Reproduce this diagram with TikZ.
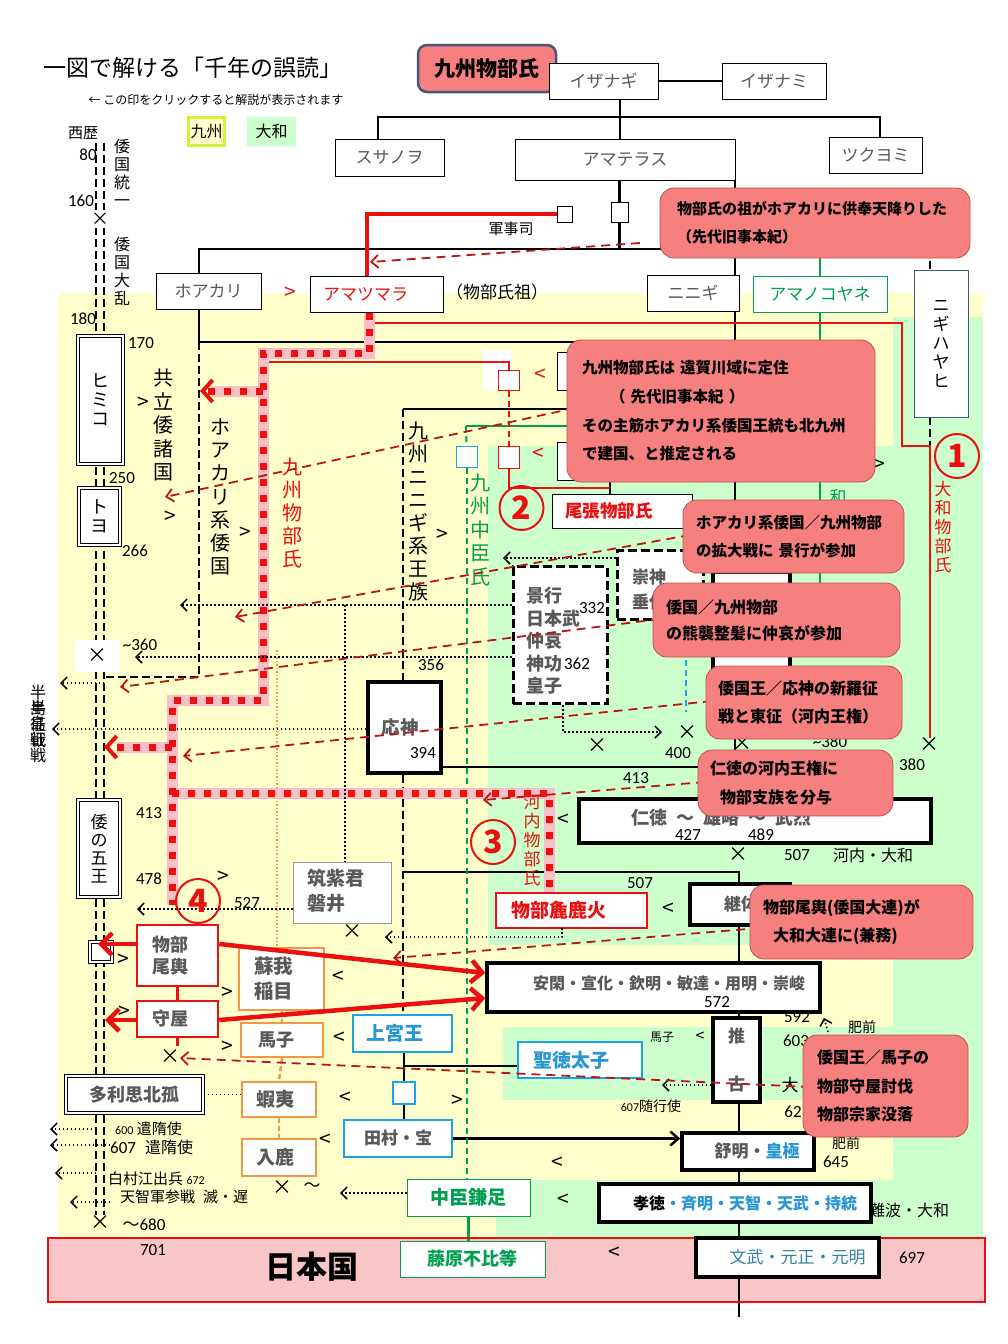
\documentclass[tikz,border=0pt]{standalone}
\usepackage{fontspec}
\setmainfont{Noto Sans CJK JP}
\newfontfamily\numf{Carlito}
\usetikzlibrary{arrows.meta,calc}

\definecolor{bgyel}{RGB}{255,255,204}
\definecolor{bggrn}{RGB}{204,255,204}
\definecolor{legyel}{RGB}{215,240,60}
\definecolor{notefill}{RGB}{246,128,128}
\definecolor{noteedge}{RGB}{192,80,77}
\definecolor{titleedge}{RGB}{70,85,120}
\definecolor{mred}{RGB}{235,15,15}
\definecolor{dred}{RGB}{190,20,20}
\definecolor{mpink}{RGB}{250,190,198}
\definecolor{morange}{RGB}{243,150,70}
\definecolor{mblue}{RGB}{25,165,225}
\definecolor{tblue}{RGB}{40,150,210}
\definecolor{mteal}{RGB}{50,130,165}
\definecolor{mgreen}{RGB}{0,160,80}
\definecolor{mgray}{RGB}{89,89,89}
\definecolor{bandpink}{RGB}{248,198,198}

\pgfdeclarelayer{back}
\pgfdeclarelayer{bg}
\pgfsetlayers{back,bg,main}

\newcommand\fs[1]{\fontsize{#1}{#1}\selectfont}
\newcommand\vfs[2]{\fontsize{#1}{#2}\selectfont}

\tikzset{
  box/.style={draw,fill=white,line width=1pt,inner sep=0pt,text=mgray,font=\fs{17}},
  bbox/.style={box,font=\bfseries\fs{17}},
  thickbox/.style={bbox,line width=3.5pt},
  dashbox/.style={bbox,line width=3pt,dash pattern=on 9pt off 4pt},
  redbox/.style={bbox,draw=mred,line width=2.5pt},
  orgbox/.style={bbox,draw=morange,line width=2.5pt},
  bluebox/.style={bbox,draw=mblue,line width=2.5pt},
  grnbox/.style={box,draw=mgreen,text=mgreen,font=\bfseries\fs{18}},
  dblbox/.style={draw,double=white,double distance=2pt,line width=1pt,fill=white,inner sep=0pt,text=black},
  smallsq/.style={draw,fill=white,line width=1pt,inner sep=0pt},
  note/.style={draw=noteedge,fill=notefill,rounded corners=14pt,line width=0.8pt,inner ysep=0pt,align=left},
  lbl/.style={inner sep=0pt,font=\fs{16}},
  num/.style={inner sep=0pt,font=\numf\fs{17}},
  vtext/.style={inner sep=0pt,align=center},
  sym/.style={inner sep=0pt,font=\fs{21}},
  cnum/.style={circle,draw=mred,line width=2pt,text=mred,minimum size=44pt,inner sep=0pt,font=\bfseries\fs{32}},
  blk/.style={line width=2.5pt},
  blkdash/.style={line width=2.5pt,dash pattern=on 8pt off 4pt},
  grnln/.style={mgreen,line width=2.5pt},
  grndash/.style={mgreen,line width=2pt,dash pattern=on 6pt off 4pt},
  redln/.style={mred,line width=2.5pt},
  kpath/.style={mpink,line width=11pt},
  kdots/.style={mred,line width=7pt,dash pattern=on 7pt off 9pt},
  kdot/.style={line width=1.5pt,dash pattern=on 1.5pt off 2.5pt},
  karr/.style={kdot,-{Straight Barb[length=6pt,width=12pt,line width=1.5pt]}},
  rarr/.style={dred,line width=1.8pt,dash pattern=on 9pt off 6pt,-{Straight Barb[length=7pt,width=13pt]}},
  bigarr/.style={mred,line width=4.5pt,-{Straight Barb[length=11pt,width=22pt]}},
}

\begin{document}
\begin{tikzpicture}[x=1pt,y=-1pt]
\useasboundingbox (0,0) rectangle (1008,1344);

% coloured areas
\begin{pgfonlayer}{back}
\fill[white] (0,0) rectangle (1008,1344);
\fill[bgyel] (58,293) rectangle (983,1238);
\fill[bggrn] (893,317) rectangle (983,1238);
\fill[bggrn] (488,446) rectangle (893,945);
\fill[bggrn] (503,1027) rectangle (893,1100);
\fill[bggrn] (496,1180) rectangle (893,1238);
\fill[white] (483,350) rectangle (512,390);
\fill[bandpink] (48,1238) rectangle (985,1302);
\end{pgfonlayer}
\draw[mred,line width=2pt] (48,1238) rectangle (985,1302);

% heading
\node[lbl,font=\fs{23}] (title) at (193,68) {一図で解ける「千年の誤読」};
\node[lbl,font=\fs{12}] (hint) at (216,100) {← この印をクリックすると解説が表示されます};
\node[draw=legyel,line width=3pt,fill=bgyel,minimum width=36pt,minimum height=28pt,inner sep=0pt,font=\fs{16}] (legkyu) at (206.5,131.5) {九州};
\node[fill=bggrn,minimum width=49pt,minimum height=29pt,inner sep=0pt,font=\fs{16}] (legyam) at (271.5,131.5) {大和};
\node[lbl,font=\fs{15}] (seireki) at (83,133) {西歴};
\node[draw=titleedge,line width=2.5pt,fill=notefill,rounded corners=9pt,minimum width=138pt,minimum height=47pt,inner sep=0pt,font=\bfseries\fs{21}] (kmono) at (487,68.5) {九州物部氏};

% gods
\node[box,minimum width=109pt,minimum height=36pt] (izanagi) at (603.5,81) {イザナギ};
\node[box,minimum width=104pt,minimum height=36pt] (izanami) at (774,81) {イザナミ};
\node[box,minimum width=109pt,minimum height=37pt] (susanoo) at (389.5,157.5) {スサノヲ};
\node[box,minimum width=220pt,minimum height=41pt] (amaterasu) at (625,159.5) {アマテラス};
\node[box,minimum width=93pt,minimum height=36pt] (tsukuyomi) at (875.5,155) {ツクヨミ};
\node[smallsq,minimum width=15pt,minimum height=16pt] (sqA) at (564.5,214) {};
\node[smallsq,minimum width=17pt,minimum height=20pt] (sqB) at (619.5,212) {};
\node[lbl,font=\fs{15}] (gunji) at (511,229) {軍事司};
\node[box,minimum width=105pt,minimum height=36pt] (hoakari) at (208.5,291) {ホアカリ};
\node[box,minimum width=133pt,minimum height=36pt] (amatsumara) at (376.5,294) {};
\node[lbl,font=\fs{17},text=mred] at ($(amatsumara)+(-11,0)$) {アマツマラ};
\node[lbl,font=\fs{17}] (sotext) at (497,292) {（物部氏祖）};
\node[box,minimum width=92pt,minimum height=36pt] (ninigi) at (693,293) {ニニギ};
\node[box,draw=mgreen,text=mgreen,minimum width=134pt,minimum height=36pt] (amanokoyane) at (820,294) {アマノコヤネ};
\node[box,draw=titleedge,minimum width=54pt,minimum height=147pt,align=center,text=black,font=\vfs{17}{19}] (nigihayahi) at (941,343.5) {ニ\\ギ\\ハ\\ヤ\\ヒ};

% time line boxes
\node[dblbox,minimum width=45pt,minimum height=128pt,align=center,font=\vfs{18}{19}] (himiko) at (100.5,400) {ヒ\\ミ\\コ};
\node[dblbox,minimum width=41pt,minimum height=57pt,align=center,font=\vfs{18}{19}] (toyo) at (99.5,516.5) {ト\\ヨ};
\node[dblbox,minimum width=42pt,minimum height=97pt,align=center,font=\vfs{17}{18}] (wa5) at (99,848.5) {倭\\の\\五\\王};
\node[dblbox,minimum width=22pt,minimum height=20pt] (wsq) at (101,952) {};
\node[dblbox,minimum width=137pt,minimum height=37pt,text=mgray,font=\bfseries\fs{18}] (tarishi) at (134.5,1094.5) {多利思北孤};
\node[fill=white,minimum width=45pt,minimum height=32pt,inner sep=0pt,font=\fs{20}] (cut360) at (97.5,656) {×};
\node[fill=white,minimum width=18pt,minimum height=18pt,inner sep=0pt,font=\fs{18}] (cut160) at (100,219) {×};

% kyushu side
\node[box,minimum width=62pt,minimum height=38pt] (bx1) at (588,371) {};
\node[box,minimum width=62pt,minimum height=38pt] (bx2) at (588,461) {};
\node[smallsq,draw=mred,minimum width=21pt,minimum height=20pt] (rsq1) at (508.5,380) {};
\node[smallsq,draw=mred,minimum width=21pt,minimum height=22pt] (rsq2) at (508.5,457) {};
\node[smallsq,draw=mblue,minimum width=21pt,minimum height=21pt] (bsq) at (466.5,456.5) {};
\node[box,text=mred,font=\bfseries\fs{17.5},minimum width=140pt,minimum height=34pt] (owari) at (622,511) {\hspace*{-26pt}尾張物部氏};
\node[dashbox,minimum width=94pt,minimum height=137pt] (keiko) at (560,635) {};
\node[lbl,font=\bfseries\vfs{18}{22.5},text=mgray,align=left,anchor=north west] at (526,587) {景行\\日本武\\仲哀\\神功\\皇子};
\node[dashbox,minimum width=86pt,minimum height=69pt] (sujin) at (660,585) {};
\node[lbl,font=\bfseries\vfs{17}{25},text=mgray,align=left,anchor=north west] at (632,569) {崇神\\垂仁};
\node[thickbox,minimum width=77pt,minimum height=128pt] (sanbox) at (751.5,636) {};
\node[thickbox,minimum width=73pt,minimum height=91pt] (ojin) at (404.5,727.5) {};
\node[lbl,font=\bfseries\fs{18.5},text=mgray] at (400,727) {応神};
\node[box,draw=mgray!60,minimum width=98pt,minimum height=61pt] (tsukushi) at (342,892.5) {};
\node[lbl,font=\bfseries\vfs{19}{25},text=mgray,align=left,anchor=north west] at (307,869) {筑紫君\\磐井};

% kawachi and yamato side
\node[thickbox,minimum width=352pt,minimum height=44pt] (nintoku) at (755,821) {};
\node[lbl,font=\bfseries\fs{18},text=mgray] at (721,818) {仁徳\hspace{9pt}～\hspace{9pt}雄略\hspace{9pt}～\hspace{9pt}武烈};
\node[thickbox,minimum width=100pt,minimum height=41pt] (keitai) at (740,904.5) {\hspace*{2pt}継体};
\node[redbox,text=mred,font=\bfseries\fs{19},minimum width=151pt,minimum height=35pt] (araka) at (571.5,910.5) {\hspace*{-26pt}物部麁鹿火};
\node[thickbox,minimum width=333pt,minimum height=49pt] (ankan) at (653.5,987.5) {};
\node[lbl,font=\bfseries\fs{16},text=mgray] at (669,983) {安閑・宣化・欽明・敏達・用明・崇峻};
\node[redbox,minimum width=81pt,minimum height=61pt,align=center,font=\bfseries\vfs{18}{22}] (obito) at (177.5,955.5) {\hspace*{-14pt}物部\\\hspace*{-14pt}尾輿};
\node[redbox,minimum width=81pt,minimum height=36pt,font=\bfseries\fs{18}] (moriya) at (177.5,1019) {\hspace*{-14pt}守屋};
\node[orgbox,minimum width=85pt,minimum height=62pt,align=center,font=\bfseries\vfs{19.5}{25}] (iname) at (281.5,979) {\hspace*{-16pt}蘇我\\\hspace*{-16pt}稲目};
\node[orgbox,minimum width=82pt,minimum height=34pt,font=\bfseries\fs{18}] (umako) at (282,1040) {\hspace*{-12pt}馬子};
\node[orgbox,minimum width=74pt,minimum height=35pt,font=\bfseries\fs{19}] (emishi) at (279,1099.5) {\hspace*{-8pt}蝦夷};
\node[orgbox,minimum width=74pt,minimum height=37pt,font=\bfseries\fs{19}] (iruka) at (279,1157.5) {\hspace*{-8pt}入鹿};
\node[bluebox,text=tblue,font=\bfseries\fs{19},minimum width=99pt,minimum height=37pt] (jogu) at (402.5,1033.5) {\hspace*{-16pt}上宮王};
\node[smallsq,draw=mblue,line width=2.5pt,minimum width=22pt,minimum height=22pt] (bsq2) at (404,1093) {};
\node[bluebox,minimum width=108pt,minimum height=37pt] (tamura) at (398,1138.5) {田村・宝};
\node[bluebox,text=tblue,font=\bfseries\fs{19},minimum width=124pt,minimum height=36pt] (shotoku) at (580,1060) {\hspace*{-18pt}聖徳太子};
\node[thickbox,minimum width=47pt,minimum height=84pt,align=center,font=\bfseries\vfs{17}{48}] (suiko) at (736.5,1060) {推\\古};
\node[thickbox,minimum width=132pt,minimum height=37pt] (jomei) at (748,1151.5) {\hspace*{18pt}舒明・\textcolor{tblue}{皇極}};
\node[grnbox,font=\bfseries\fs{19},minimum width=123pt,minimum height=37pt] (kamatari) at (468.5,1197.5) {中臣鎌足};
\node[thickbox,minimum width=272pt,minimum height=38pt,font=\bfseries\fs{16},text=black] (kotoku) at (735,1203) {\hspace*{20pt}孝徳\textcolor{tblue}{・斉明・天智・天武・持統}};
\node[grnbox,minimum width=145pt,minimum height=36pt] (fuhito) at (472.5,1259) {藤原不比等};
\node[thickbox,minimum width=183pt,minimum height=39pt,font=\fs{17},text=mteal] (monmu) at (787.5,1257.5) {\hspace*{20pt}文武・元正・元明};
\node[lbl,font=\bfseries\fs{31}] (nihon) at (312,1267) {日本国};

% lines
\coordinate (jS) at (378,117);
\coordinate (jT) at (880,117);
\coordinate (jA) at (620,117);
\coordinate (jH) at (199,249);
\coordinate (jN) at (930,249);
\coordinate (jW) at (199,342);
\coordinate (jK) at (403,409);
\coordinate (jG) at (466,426);
\coordinate (jO) at (441,767);
\coordinate (j507) at (403,872);
\coordinate (jU) at (404,1066);
\coordinate (jR) at (367,214);
\coordinate (spineU) at (735,0);
\coordinate (spine) at (739,0);
\begin{pgfonlayer}{bg}
\draw[blkdash] (96,143) -- (96,1215) (104,143) -- (104,1215);
\draw[blk] (izanagi) -- (izanami);
\draw[blk] (jA |- izanagi.south) -- (jA |- amaterasu.north);
\draw[blk] (jS |- susanoo.north) -- (jS) -- (jT) -- (jT |- tsukuyomi.north);
\draw[blk] (sqB.north |- amaterasu.south) -- (sqB.north);
\draw[blk] (sqB.south) -- (sqB.south |- jH);
\draw[blk] (jH |- hoakari.north) -- (jH) -- (jN);
\draw[blkdash] (jN) -- (jN |- nigihayahi.north);
\draw[blk] (spineU |- amaterasu.south) -- (spineU |- ninigi.north);
\draw[grnln] (amanokoyane.north |- jH) -- (amanokoyane.north);
\draw[grnln] (amanokoyane.south) -- ++(0,273);
\draw[blk] (jH |- hoakari.south) -- (jW) -- (jW -| spineU);
\draw[blkdash] (jW) -- (199,677) -- (104,677);
\draw[blk] (jK) -- (jK -| spineU);
\draw[blkdash] (jK) -- (jK |- ojin.north);
\draw[blkdash] (jK |- ojin.south) -- (jK |- jogu.north);
\draw[blk] (spineU |- ninigi.south) -- (spineU |- nintoku.north);
\draw[blk] (610,480) -- (610,0 |- owari.north);
\draw[blk] (jO) -- (jO -| spineU);
\draw[blk] (j507) -- (j507 -| spine) -- (spine |- keitai.north);
\draw[blk] (spine |- keitai.south) -- (spine |- ankan.north);
\draw[blk] (spine |- ankan.south) -- (spine |- suiko.north);
\draw[blk] (spine |- suiko.south) -- (spine |- jomei.north);
\draw[blk] (spine |- jomei.south) -- (spine |- kotoku.north);
\draw[blk] (spine |- kotoku.south) -- (spine |- monmu.north);
\draw[blk] (spine |- monmu.south) -- ++(0,38);
\draw[blk] (jogu.south -| bsq2) -- (bsq2.north);
\draw[blk] (bsq2.south) -- (bsq2.south |- tamura.north);
\draw[blk] (jU) -- (jU -| shotoku.west);
\draw[blk,-{Straight Barb[length=8pt,width=14pt]}] (tamura.east) -- (tamura.east -| jomei.west);
\draw[grnln] (jG) -- (jG -| amanokoyane);
\draw[grndash] (jG) -- (bsq.north);
\draw[grndash] (bsq.south) -- (bsq.south |- kamatari.north);
\draw[grnln] (kamatari.south) -- (kamatari.south |- fuhito.north);
\draw[blkdash] (930,417) -- (930,446);
\draw[mblue,line width=2pt,dash pattern=on 6pt off 4pt] (686,660) -- (686,712);
% mononobe lines
\draw[mred,line width=4.5pt] (sqA.west) -- (jR) -- (jR |- amatsumara.north);
\draw[redln] (369,323) -- (902,323) -- (902,446) -- (930,446) -- (930,738);
\draw[redln,line width=2pt] (265,362) -| (rsq1.north);
\draw[redln,line width=2pt,dash pattern=on 6pt off 4pt] (rsq1.south) -- (rsq2.north);
\draw[redln,line width=2pt] (rsq2.south) |- (610,488);
\draw[morange,line width=1.2pt,dash pattern=on 1.5pt off 2pt] (277,650) -- (277,0 |- iname.north);
\draw[morange,line width=2.5pt,dash pattern=on 5pt off 3pt] (iname.south) -- (umako.north);
\draw[morange,line width=2.5pt,dash pattern=on 5pt off 3pt] (umako.south) -- (emishi.north);
\draw[morange,line width=2.5pt,dash pattern=on 5pt off 3pt] (emishi.south) -- (iruka.north);
\draw[redln] (obito.south) -- (moriya.north);
\draw[redln] (moriya.south) -- ++(0,8);
% kyushu mononobe route
\draw[kpath] (amatsumara.south -| 369,0) -- (369,353) -- (263,353) -- (263,700) -- (172,700) -- (172,905);
\draw[kpath] (172,793) -- (549,793) -- (549,0 |- araka.north);
\draw[kpath] (263,391) -- (212,391);
\draw[kpath] (172,747) -- (117,747);
\draw[kdots] (amatsumara.south -| 369,0) -- (369,353) -- (263,353) -- (263,700) -- (172,700) -- (172,905);
\draw[kdots] (172,793) -- (549,793) -- (549,0 |- araka.north);
\end{pgfonlayer}
\draw[mred,line width=7pt,dash pattern=on 7pt off 9pt,-{Straight Barb[length=10pt,width=22pt,line width=4pt]}] (263,391) -- (200,391);
\draw[mred,line width=7pt,dash pattern=on 7pt off 9pt,-{Straight Barb[length=10pt,width=22pt,line width=4pt]}] (172,747) -- (104,747);

% dotted arrows
\draw[karr] (sujin.west |- 0,558) -- (503,558);
\draw[karr] (keiko.west |- 0,605) -- (180,605);
\draw[kdot] (345,605) -- (345,0 |- tsukushi.north);
\draw[karr] (keiko.west |- 0,657) -- (135,657);
\draw[karr] (104,683) -- (60,683);
\draw[karr] (ojin.west |- 0,729) -- (52,729);
\draw[karr] (tsukushi.west |- 0,909) -- (137,909);
\draw[karr] (562,928) -- (562,937) -- (385,937);
\draw[karr] (563,705) -- (563,732) -- (662,732);
\draw[kdot] (tarishi.east) -- (tarishi.east -| emishi.west);
\draw[karr] (96,1129) -- (50,1129);
\draw[karr] (110,1145) -- (50,1145);
\draw[karr] (96,1173) -- (55,1173);
\draw[karr] (110,1202) -- (70,1202);
\draw[karr] (kamatari.west |- 0,1193) -- (340,1193);
\draw[karr] (suiko.west |- 0,1085) -- (662,1085);
\draw[karr] (828,1032) -- (824,1018);

% big red arrows
\draw[bigarr] (obito.west |- 0,944) -- (98,944);
\draw[bigarr] (moriya.west |- 0,1020) -- (105,1020);
\draw[bigarr] (obito.east |- 0,944) -- (ankan.west |- 0,973);
\draw[bigarr] (moriya.east |- 0,1020) -- (ankan.west |- 0,998);

% vertical names
\node[vtext,font=\vfs{16}{18}] (vtoitsu) at (122,173) {倭\\国\\統\\一};
\node[vtext,font=\vfs{16}{18}] (vtairan) at (122,271) {倭\\国\\大\\乱};
\node[vtext,font=\vfs{20}{23.5}] (vkyoritsu) at (163,425) {共\\立\\倭\\諸\\国};
\node[vtext,font=\vfs{20}{23.3}] (vhoakari) at (220,497) {ホ\\ア\\カ\\リ\\系\\倭\\国};
\node[vtext,font=\vfs{20}{23},text=mred] (vkmono) at (292,513) {九\\州\\物\\部\\氏};
\node[vtext,font=\vfs{20}{23}] (vninigi) at (418,512) {九\\州\\ニ\\ニ\\ギ\\系\\王\\族};
\node[vtext,font=\vfs{20}{23.5},text=mgreen] (vnakatomi) at (480,530) {九\\州\\中\\臣\\氏};
\node[vtext,font=\vfs{17}{19},text=mred] (vymono) at (943,527) {大\\和\\物\\部\\氏};
\node[vtext,font=\vfs{17}{19},text=mred] (vkawachi) at (532,840) {河\\内\\物\\部\\氏};
\node[vtext,font=\vfs{16}{16}] (hanto1) at (38,716) {半\\島\\征\\戦};
\node[vtext,font=\vfs{16}{16}] (hanto2) at (38,731) {半\\島\\征\\戦};
\node[vtext,font=\vfs{17}{17},text=mgreen] (vwa) at (838,497) {和};

% years
\node[num] at (88,155) {80};
\node[num] at (81,201) {160};
\node[num] at (83,319) {180};
\node[num] at (141,343) {170};
\node[num] at (122,478) {250};
\node[num] at (135,551) {266};
\node[num] at (140,645) {\textasciitilde 360};
\node[num] at (149,813) {413};
\node[num] at (149,879) {478};
\node[num] at (247,903) {527};
\node[num] at (431,665) {356};
\node[num] at (423,753) {394};
\node[num] at (592,608) {332};
\node[num] at (577,664) {362};
\node[num] at (678,753) {400};
\node[num] at (636,778) {413};
\node[num] at (830,742) {\textasciitilde 380};
\node[num] at (912,765) {380};
\node[num] at (688,835) {427};
\node[num] at (761,835) {489};
\node[num] at (797,855) {507};
\node[lbl,font=\fs{16}] at (873,855) {河内・大和};
\node[num] at (640,883) {507};
\node[num] at (717,1002) {572};
\node[num] at (797,1017) {592};
\node[lbl,font=\fs{14}] at (862,1027) {肥前};
\node[num] at (796,1041) {603};
\node[lbl,font=\fs{17}] at (790,1085) {大};
\node[num] at (793,1112) {62};
\node[lbl,font=\fs{12}] at (662,1037) {馬子};
\node[lbl,font=\fs{16}] at (700,1037) {<};
\node[lbl,font=\fs{14}] at (651,1106) {{\numf\fs{12}607}随行使};
\node[lbl,font=\fs{14}] at (846,1143) {肥前};
\node[num] at (836,1162) {645};
\node[lbl,font=\fs{16}] at (909,1210) {難波・大和};
\node[num] at (153,1250) {701};
\node[num] at (912,1258) {697};
\node[lbl,font=\fs{20}] at (100,1223) {×};
\node[lbl,font=\fs{17}] at (144,1225) {～{\numf 680}};
\node[lbl,font=\fs{15},anchor=west] at (115,1129) {{\numf\fs{12}600} 遣隋使};
\node[lbl,font=\fs{16},anchor=west] at (110,1147) {{\numf\fs{17}607}\hspace{9pt}遣隋使};
\node[lbl,font=\fs{15},anchor=west] at (108,1179) {白村江出兵 {\numf\fs{12}672}};
\node[lbl,font=\fs{15},anchor=west] at (120,1197) {天智軍参戦\hspace{8pt}滅・遅};

% crosses
\node[lbl,font=\fs{20}] at (352,932) {×};
\node[lbl,font=\fs{20}] at (170,1057) {×};
\node[lbl,font=\fs{20}] at (282,1188) {×};
\node[lbl,font=\fs{17}] at (312,1187) {～};
\node[lbl,font=\fs{20}] at (597,746) {×};
\node[lbl,font=\fs{20}] at (687,733) {×};
\node[lbl,font=\fs{20}] at (742,744) {×};
\node[lbl,font=\fs{20}] at (929,745) {×};
\node[lbl,font=\fs{20}] at (738,855) {×};

% order signs
\node[sym,text=mred] at (290,293) {>};
\node[sym,text=mred] at (540,375) {<};
\node[sym,text=mred] at (538,454) {<};
\node[sym] at (143,403) {>};
\node[sym] at (170,517) {>};
\node[sym] at (245,533) {>};
\node[sym] at (442,535) {>};
\node[sym] at (879,465) {>};
\node[sym] at (223,877) {>};
\node[sym] at (563,820) {<};
\node[sym] at (668,909) {<};
\node[sym] at (123,960) {>};
\node[sym] at (227,993) {>};
\node[sym] at (338,977) {<};
\node[sym] at (124,1012) {>};
\node[sym] at (339,1038) {<};
\node[sym] at (227,1047) {>};
\node[sym] at (345,1098) {<};
\node[sym] at (457,1101) {>};
\node[sym] at (325,1140) {<};
\node[sym] at (557,1163) {<};
\node[sym] at (563,1200) {<};
\node[sym] at (614,1253) {<};

% notes with pointers
\draw[rarr] (640,243) -- (370,262);
\draw[rarr] (575,408) -- (165,497);
\draw[rarr] (690,535) -- (235,617);
\draw[rarr] (660,619) -- (120,687);
\draw[rarr] (712,701) -- (183,756);
\draw[rarr] (705,782) -- (483,800);
\draw[rarr] (760,928) -- (393,958);
\draw[rarr] (810,1087) -- (180,1058);

\node[note,minimum width=310pt,minimum height=70pt,text width=276pt,inner xsep=17pt,font=\bfseries\vfs{15}{28}] (c1) at (815,223) {物部氏の祖がホアカリに供奉天降りした\\（先代旧事本紀）};
\node[note,minimum width=308pt,minimum height=142pt,text width=278pt,inner xsep=15pt,font=\bfseries\vfs{15.5}{28.7}] (c2) at (721,411) {九州物部氏は 遠賀川域に定住\\\hspace*{28pt}（ 先代旧事本紀 ）\\その主筋ホアカリ系倭国王統も北九州\\で建国、と推定される};
\node[note,minimum width=221pt,minimum height=73pt,text width=195pt,inner xsep=13pt,font=\bfseries\vfs{15.5}{28}] (c3) at (793.5,536.5) {ホアカリ系倭国／九州物部\\の拡大戦に 景行が参加};
\node[note,minimum width=247pt,minimum height=74pt,text width=221pt,inner xsep=13pt,font=\bfseries\vfs{16}{26}] (c4) at (776.5,620) {倭国／九州物部\\の熊襲整髪に仲哀が参加};
\node[note,minimum width=196pt,minimum height=73pt,text width=172pt,inner xsep=12pt,font=\bfseries\vfs{16}{28}] (c5) at (804,702.5) {倭国王／応神の新羅征\\戦と東征（河内王権）};
\node[note,minimum width=195pt,minimum height=66pt,text width=171pt,inner xsep=12pt,font=\bfseries\vfs{16}{29}] (c6) at (795.5,783) {仁徳の河内王権に\\\hspace*{10pt}物部支族を分与};
\node[note,minimum width=223pt,minimum height=74pt,text width=197pt,inner xsep=13pt,font=\bfseries\vfs{16}{28}] (c7) at (861.5,922) {物部尾輿(倭国大連)が\\\hspace*{10pt}大和大連に(兼務)};
\node[note,minimum width=165pt,minimum height=102pt,text width=137pt,inner xsep=14pt,font=\bfseries\vfs{16}{28.5}] (c8) at (885.5,1086) {倭国王／馬子の\\物部守屋討伐\\物部宗家没落};

% circled numbers
\node[cnum] (n1) at (957,456) {1};
\node[cnum] (n2) at (521.5,508) {2};
\node[cnum] (n3) at (493,842) {3};
\node[cnum] (n4) at (198,901) {4};
\end{tikzpicture}
\end{document}
